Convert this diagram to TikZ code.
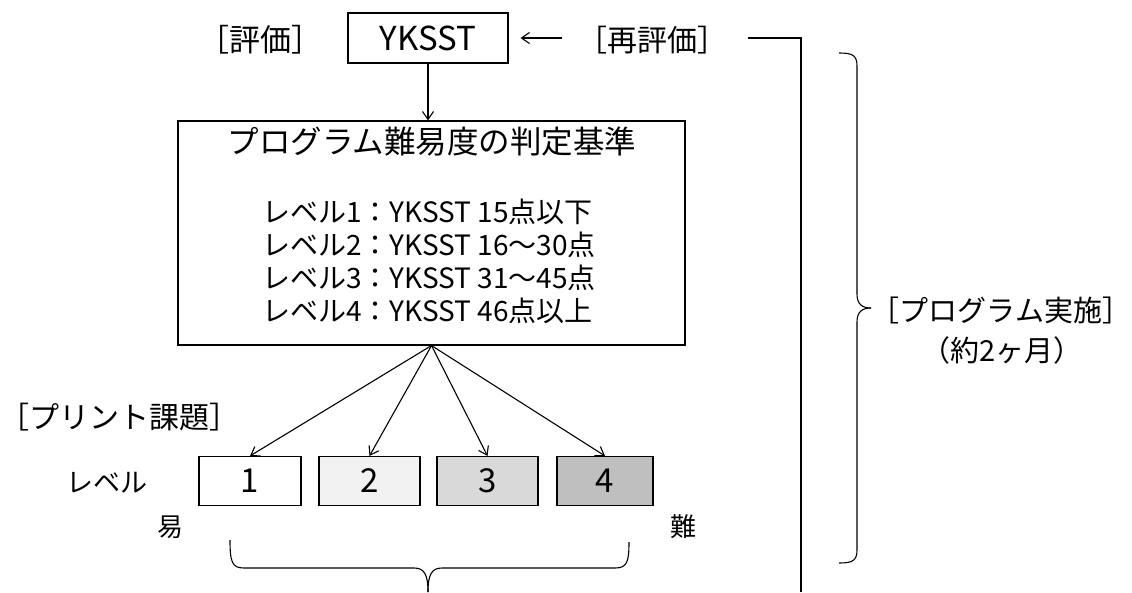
\documentclass[tikz,border=0pt]{standalone}
\usepackage{fontspec}
\setmainfont{Noto Sans CJK JP}
\usetikzlibrary{arrows.meta}
\tikzset{
  box/.style={draw, line width=1.1pt, inner sep=0pt, anchor=center},
  lvbox/.style={box, minimum height=49pt, font=\fontsize{33}{33}\selectfont},
  lbl/.style={inner sep=0pt, anchor=center, font=\fontsize{30}{30}\selectfont},
  conn/.style={line width=1.1pt, -{Straight Barb[length=8pt,width=11pt,line width=1.1pt]}},
  plain/.style={line width=1.1pt}
}
\begin{document}
\begin{tikzpicture}[x=1pt,y=-1pt]
\useasboundingbox (0,0) rectangle (1132,592);
% top row
\node[lbl, font=\fontsize{31}{31}\selectfont] (hyoka) at (260,40) {［評価］};
\node[box, minimum width=160pt, minimum height=50pt, font=\fontsize{33}{33}\selectfont] (yk) at (428,38) {YKSST};
\node[lbl] (re) at (652,40) {［再評価］};
\coordinate (c1) at (748,38);
\coordinate (c2) at (801,38);
\coordinate (c3) at (801,592);
\draw[conn, shorten <=15pt, shorten >=12pt] (re.west |- yk.east) -- (yk.east);
\draw[plain] (c1) -- (c2) -- (c3);
% criteria box
\node[box, minimum width=507pt, minimum height=224pt] (crit) at (431.5,233) {};
\node[lbl, font=\fontsize{31.5}{31.5}\selectfont] (title) at (432,142) {プログラム難易度の判定基準};
\node[lbl, align=left, font=\fontsize{28}{33}\selectfont] (levels) at (429,261)
  {レベル1：YKSST 15点以下\\レベル2：YKSST 16～30点\\レベル3：YKSST 31～45点\\レベル4：YKSST 46点以上};
\draw[conn] (yk.south) -- (crit.north -| yk.south);
% print tasks
\node[lbl] (print) at (119,417) {［プリント課題］};
\node[lbl, font=\fontsize{27}{27}\selectfont] (lv) at (107,483) {レベル};
\node[lvbox, minimum width=102pt, fill=white] (b1) at (250,481) {1};
\node[lvbox, minimum width=101pt, fill=black!5] (b2) at (369.5,481) {2};
\node[lvbox, minimum width=101pt, fill=black!15] (b3) at (487.5,481) {3};
\node[lvbox, minimum width=96pt, fill=black!25] (b4) at (605,481) {4};
\draw[conn] (crit.south) -- (b1.north);
\draw[conn] (crit.south) -- (b2.north);
\draw[conn] (crit.south) -- (b3.north);
\draw[conn] (crit.south) -- (b4.north);
\node[lbl, font=\fontsize{26}{26}\selectfont] (easy) at (170,527) {易};
\node[lbl, font=\fontsize{26}{26}\selectfont] (hard) at (683,527) {難};
% bottom brace
\draw[plain] (230,540) .. controls (230,562) and (232,568) .. (244,568) -- (414,568)
  .. controls (424,568) and (428,574) .. (428,592);
\draw[plain] (629,542) .. controls (629,562) and (627,568) .. (615,568) -- (442,568)
  .. controls (432,568) and (428,574) .. (428,592);
% right brace
\draw[plain] (839,53) .. controls (852,53) and (857,55) .. (857,66) -- (857,294)
  .. controls (857,304) and (862,308) .. (871,308);
\draw[plain] (839,563) .. controls (852,563) and (857,561) .. (857,550) -- (857,322)
  .. controls (857,312) and (862,308) .. (871,308);
\node[lbl, font=\fontsize{29}{29}\selectfont] (prog) at (1001,310) {［プログラム実施］};
\node[lbl, font=\fontsize{29}{29}\selectfont] (dur) at (1002,350) {（約2ヶ月）};
\end{tikzpicture}
\end{document}
